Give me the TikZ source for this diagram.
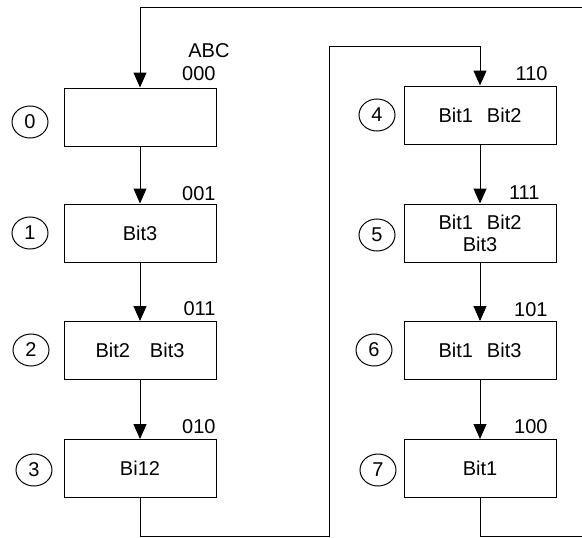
\documentclass[tikz,border=0pt]{standalone}
\usepackage{fontspec}
\setmainfont{Liberation Sans}
\usetikzlibrary{arrows.meta,shapes.geometric}
\tikzset{
  state/.style={draw, minimum width=152pt, minimum height=58pt, inner sep=0pt, align=center},
  num/.style={draw, ellipse, minimum width=36pt, minimum height=32pt, inner sep=0pt},
  code/.style={anchor=base east, inner sep=0pt},
  flow/.style={-{Triangle[length=15pt,width=13pt]}},
}
\newcommand{\gap}{\hspace{0.7em}}
\begin{document}
\begin{tikzpicture}[x=1pt,y=-1pt, line width=1pt, font=\fontsize{20}{22}\selectfont]
\useasboundingbox (0,0) rectangle (582,538);
\clip (0,0) rectangle (582,538);
% left column
\node[state] (s0) at (140,117) {};
\node[state] (s1) at (140,233) {Bit3};
\node[state] (s2) at (140,350.5) {Bit2\quad Bit3};
\node[state] (s3) at (140,468.5) {Bi12};
% right column
\node[state] (s4) at (480,115) {Bit1\gap Bit2};
\node[state] (s5) at (480,233) {Bit1\gap Bit2\\Bit3};
\node[state] (s6) at (480,350.5) {Bit1\gap Bit3};
\node[state] (s7) at (480,468.5) {Bit1};
% state numbers
\node[num] (c0) at (30,122) {0};
\node[num] (c1) at (30,233) {1};
\node[num] (c2) at (31,350) {2};
\node[num] (c3) at (34,470) {3};
\node[num] (c4) at (377,115) {4};
\node[num] (c5) at (377,235) {5};
\node[num] (c6) at (374,350) {6};
\node[num] (c7) at (378,470) {7};
% codes
\node[code] (abc) at (230,57) {ABC};
\node[code] (k0) at (216,80) {000};
\node[code] (k1) at (216,200) {001};
\node[code] (k2) at (216,315) {011};
\node[code] (k3) at (216,433) {010};
\node[code] (k4) at (548,80) {110};
\node[code] (k5) at (540,199) {111};
\node[code] (k6) at (548,316) {101};
\node[code] (k7) at (548,433) {100};
% transitions
\foreach \a/\b in {s0/s1,s1/s2,s2/s3,s4/s5,s5/s6,s6/s7}
  \draw[flow] (\a) -- (\b);
\coordinate (lo) at (329,536);
\coordinate (up) at (329,46);
\draw[flow] (s3.south) |- (lo) -- (up) -| (s4.north);
\coordinate (bot) at (592,536);
\coordinate (top) at (140,7);
\draw[flow] (s7.south) |- (bot) |- (top) -- (s0.north);
\end{tikzpicture}
\end{document}
